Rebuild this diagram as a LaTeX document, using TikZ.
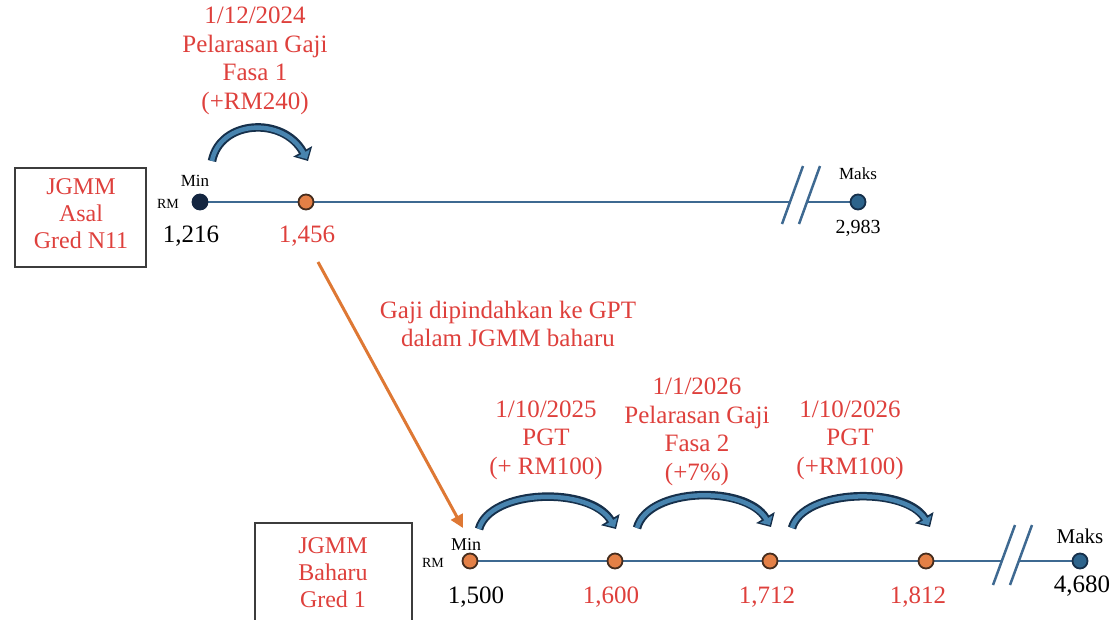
\documentclass[tikz,border=0pt]{standalone}
\usepackage{fontspec}
\setmainfont{Liberation Serif}
\usetikzlibrary{arrows.meta}
\definecolor{lblred}{RGB}{222,64,60}
\definecolor{linebl}{RGB}{62,105,145}
\definecolor{arrdark}{RGB}{22,48,75}
\definecolor{arrfill}{RGB}{72,132,175}
\definecolor{dotnavy}{RGB}{20,38,65}
\definecolor{dotorange}{RGB}{228,128,70}
\definecolor{dotedge}{RGB}{70,45,30}
\definecolor{dotblue}{RGB}{45,100,140}
\definecolor{orarrow}{RGB}{222,120,52}
\definecolor{boxgray}{RGB}{60,60,60}
\begin{document}
\begin{tikzpicture}[x=1pt,y=-1pt,
  lbl/.style={text=lblred, align=center, font=\fontsize{25}{28.5}\selectfont, inner sep=0pt},
  boxtxt/.style={text=lblred, align=center, font=\fontsize{24}{27}\selectfont, inner sep=0pt},
  num/.style={font=\fontsize{25}{27}\selectfont, inner sep=0pt},
  rnum/.style={num, text=lblred},
  small/.style={font=\fontsize{17}{19}\selectfont, inner sep=0pt},
  tiny/.style={font=\fontsize{14}{16}\selectfont, inner sep=0pt},
  dotn/.style={circle, draw=#1, line width=1.8pt, minimum size=15pt, inner sep=0pt},
  tline/.style={draw=linebl, line width=2.8pt},
  slash/.style={draw=linebl, line width=2.5pt},
  gbox/.style={draw=boxgray, line width=1.2pt},
  curvo/.style={draw=arrdark, line width=8.5pt, -{Triangle[width=21pt,length=11pt]}},
  curvi/.style={draw=arrfill, line width=4.5pt, shorten >=2.2pt, -{Triangle[width=14pt,length=7pt]}},
  oarrow/.style={draw=orarrow, line width=3pt, -{Triangle[width=13pt,length=13pt]}}
]
\useasboundingbox (0,0) rectangle (1115,619);
\clip (0,0) rectangle (1115,619);

% ---------- top timeline ----------
\draw[gbox] (15,168) rectangle (146,267);
\node[boxtxt] (boxA) at (81,214) {JGMM\\Asal\\Gred N11};

\coordinate (pa0) at (200,202);
\coordinate (pa1) at (306,202);
\coordinate (pamax) at (858,202);
\coordinate (tbk1) at (790,202);
\coordinate (tbk2) at (807,202);
\coordinate (ts1a) at (803,166); \coordinate (ts1b) at (782,224);
\coordinate (ts2a) at (820,166); \coordinate (ts2b) at (799,224);
\draw[tline] (pa0) -- (tbk1);
\draw[tline] (tbk2) -- (pamax);
\draw[slash] (ts1a) -- (ts1b);
\draw[slash] (ts2a) -- (ts2b);
\node[dotn=dotnavy, fill=dotnavy] (a0) at (pa0) {};
\node[dotn=dotedge, fill=dotorange] (a1) at (pa1) {};
\node[dotn=arrdark, fill=dotblue] (amax) at (pamax) {};

\node[small] (amin) at (195,181) {Min};
\node[tiny] (arm) at (168,204) {RM};
\node[num] (av0) at (191,236) {1,216};
\node[rnum] (av1) at (307,236) {1,456};
\node[small] (amaks) at (858,174) {Maks};
\node[small, font=\fontsize{20}{22}\selectfont] (avmax) at (858,228) {2,983};

\node[lbl] (topl) at (255,61) {1/12/2024\\Pelarasan Gaji\\Fasa 1\\(+RM240)};

\coordinate (ta0) at (212,161);
\coordinate (ta1) at (308,161);
\draw[curvo] (ta0) .. controls (220,120) and (283,116) .. (ta1);
\draw[curvi] (ta0) .. controls (220,120) and (283,116) .. (ta1);

% ---------- transfer arrow ----------
\coordinate (oa0) at (318,262);
\coordinate (oa1) at (463,528);
\draw[oarrow] (oa0) -- (oa1);
\node[lbl] (gaji) at (508,324) {Gaji dipindahkan ke GPT\\dalam JGMM baharu};

% ---------- bottom timeline ----------
\draw[gbox] (255,523) rectangle (412,650);
\node[boxtxt] (boxB) at (333,573) {JGMM\\Baharu\\Gred 1};

\coordinate (pb0) at (470,561);
\coordinate (pb1) at (615,561);
\coordinate (pb2) at (770,561);
\coordinate (pb3) at (926,561);
\coordinate (pbmax) at (1080,561);
\coordinate (bbk1) at (1002,561);
\coordinate (bbk2) at (1019,561);
\coordinate (bs1a) at (1015,525); \coordinate (bs1b) at (993,585);
\coordinate (bs2a) at (1032,525); \coordinate (bs2b) at (1010,585);
\draw[tline] (pb0) -- (bbk1);
\draw[tline] (bbk2) -- (pbmax);
\draw[slash] (bs1a) -- (bs1b);
\draw[slash] (bs2a) -- (bs2b);

\node[dotn=dotedge, fill=dotorange] (b0) at (pb0) {};
\node[dotn=dotedge, fill=dotorange] (b1) at (pb1) {};
\node[dotn=dotedge, fill=dotorange] (b2) at (pb2) {};
\node[dotn=dotedge, fill=dotorange] (b3) at (pb3) {};
\node[dotn=arrdark, fill=dotblue] (bmax) at (pbmax) {};

\node[small, font=\fontsize{18}{20}\selectfont] (bmin) at (466,545) {Min};
\node[tiny] (brm) at (433,563) {RM};
\node[num] (bv0) at (476,597) {1,500};
\node[rnum] (bv1) at (611,597) {1,600};
\node[rnum] (bv2) at (767,597) {1,712};
\node[rnum] (bv3) at (918,597) {1,812};
\node[num] (bvmax) at (1082,586) {4,680};
\node[small, font=\fontsize{21}{23}\selectfont] (bmaks) at (1080,536) {Maks};

\node[lbl] (l1) at (546,440) {1/10/2025\\PGT\\(+ RM100)};
\node[lbl] (l2) at (697,432) {1/1/2026\\Pelarasan Gaji\\Fasa 2\\(+7\%)};
\node[lbl] (l3) at (850,440) {1/10/2026\\PGT\\(+RM100)};

\coordinate (c10) at (479,529); \coordinate (c11) at (616,529);
\coordinate (c20) at (637,528); \coordinate (c21) at (771,527);
\coordinate (c30) at (792,528); \coordinate (c31) at (930,527);
\draw[curvo] (c10) .. controls (490,489) and (590,486) .. (c11);
\draw[curvi] (c10) .. controls (490,489) and (590,486) .. (c11);
\draw[curvo] (c20) .. controls (648,487) and (746,485) .. (c21);
\draw[curvi] (c20) .. controls (648,487) and (746,485) .. (c21);
\draw[curvo] (c30) .. controls (803,489) and (905,486) .. (c31);
\draw[curvi] (c30) .. controls (803,489) and (905,486) .. (c31);
\end{tikzpicture}
\end{document}
